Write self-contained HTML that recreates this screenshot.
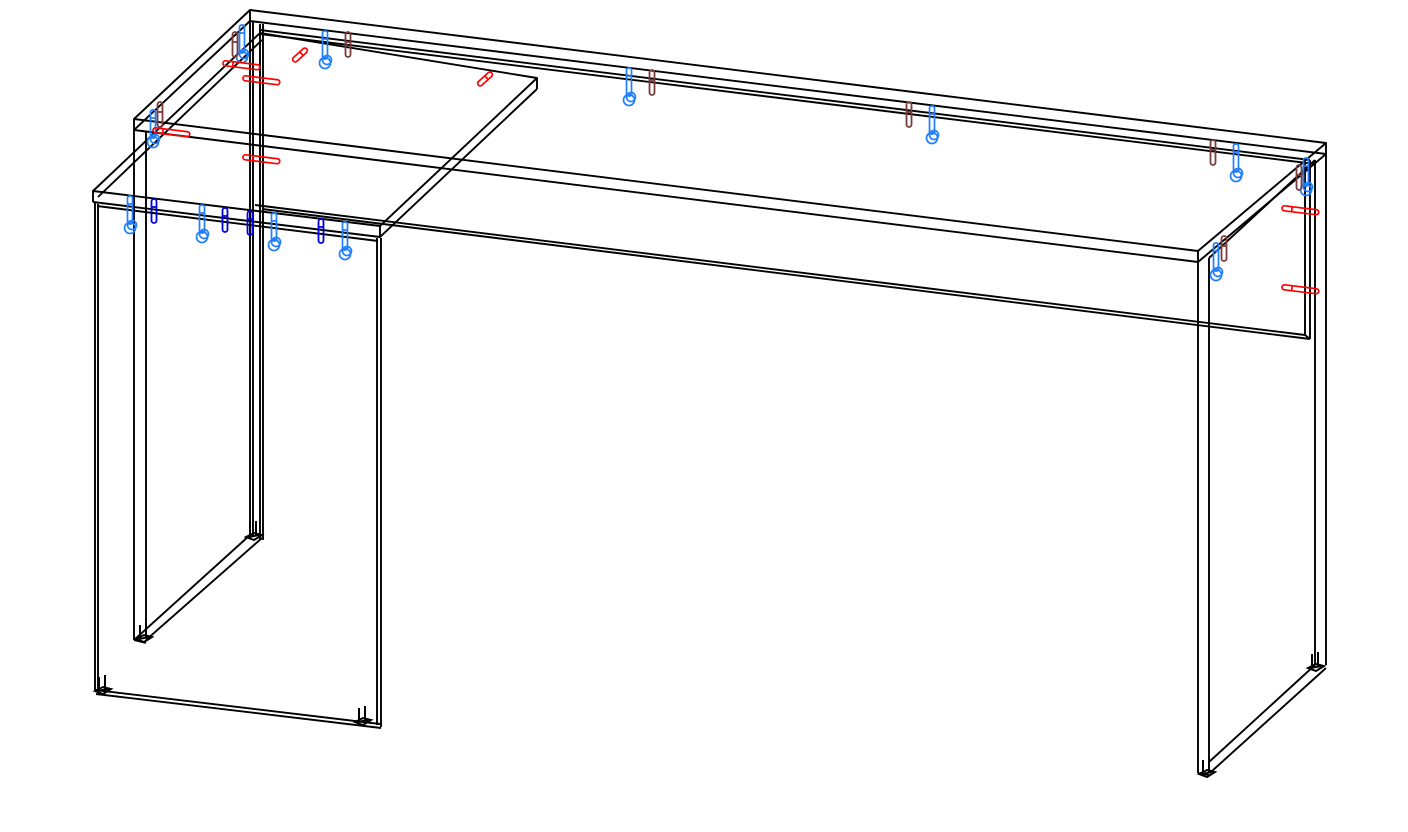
<!DOCTYPE html>
<html><head><meta charset="utf-8"><style>
html,body{margin:0;padding:0;background:#fff;width:1408px;height:832px;overflow:hidden}
svg{display:block}
</style></head><body>
<svg width="1408" height="832" viewBox="0 0 1408 832" xmlns="http://www.w3.org/2000/svg">
<defs>
<g id="cam" fill="none" stroke="#1f7fff" stroke-width="1.7">
  <rect x="-2.5" y="0" width="5" height="28" rx="2"/>
  <line x1="-2.5" y1="8" x2="2.5" y2="8"/>
  <circle cx="0" cy="32" r="5.5"/>
  <circle cx="2" cy="29" r="4.5"/>
</g>
<g id="dow" fill="none" stroke="#0000e0" stroke-width="1.8">
  <rect x="-2.5" y="0" width="5" height="24" rx="2.5"/>
  <line x1="-2.5" y1="8" x2="2.5" y2="8"/>
</g>
<g id="brn" fill="none" stroke="#7a3b3b" stroke-width="1.8">
  <rect x="-2.5" y="0" width="5" height="25" rx="2.5"/>
  <line x1="-2.5" y1="10" x2="2.5" y2="10"/>
</g>
<g id="rh" fill="none" stroke="#ff0000" stroke-width="1.7">
  <rect x="0" y="-2.5" width="37" height="5" rx="2.5"/>
  <line x1="10" y1="-2.5" x2="10" y2="2.5"/>
</g>
<g id="rd" fill="none" stroke="#ff0000" stroke-width="1.7">
  <rect x="-9" y="-2.5" width="18" height="5" rx="2.5"/>
  <line x1="2" y1="-2.5" x2="2" y2="2.5"/>
</g>
<g id="foot" fill="none" stroke="#000" stroke-width="2">
  <path d="M0,0 L8,-4 L16,-2 L8,3 Z"/>
  <line x1="4" y1="-1" x2="4" y2="-14"/>
  <line x1="10" y1="-2" x2="10" y2="-16"/>
  <line x1="3" y1="0" x2="13" y2="-2"/>
</g>
</defs>
<g fill="none" stroke="#000" stroke-width="1.9" stroke-linejoin="round">
<polygon points="250,10 1326,143 1198,251 134,119"/>
<polyline points="250,21 1326,154"/>
<polyline points="134,130 1198,262 1326,154 1326,143"/>
<line x1="134" y1="119" x2="134" y2="130"/>
<line x1="1198" y1="251" x2="1198" y2="262"/>
<line x1="250" y1="10" x2="250" y2="21"/>
<line x1="134" y1="130" x2="250" y2="21"/>
<line x1="260" y1="30" x2="1310" y2="160"/>
<line x1="260" y1="34" x2="1315" y2="164"/>
<line x1="255" y1="205" x2="1305" y2="335"/>
<line x1="262" y1="209" x2="1310" y2="339"/>
<line x1="1305" y1="160" x2="1305" y2="335"/>
<line x1="1310" y1="160" x2="1310" y2="339"/>
<line x1="1305" y1="335" x2="1310" y2="339"/>
<line x1="134" y1="130" x2="134" y2="640"/>
<line x1="146" y1="131" x2="146" y2="636"/>
<line x1="250" y1="21" x2="250" y2="537"/>
<line x1="253" y1="21" x2="253" y2="537"/>
<line x1="260" y1="24" x2="260" y2="540"/>
<line x1="263" y1="24" x2="263" y2="540"/>
<line x1="134" y1="640" x2="250" y2="535"/>
<line x1="146" y1="640" x2="262" y2="538"/>
<line x1="134" y1="640" x2="146" y2="643"/>
<polygon points="93,191 380,226 537,78 260,33"/>
<line x1="93" y1="191" x2="93" y2="202"/>
<line x1="380" y1="226" x2="380" y2="237"/>
<line x1="537" y1="78" x2="537" y2="89"/>
<polyline points="93,202 380,237 537,89"/>
<line x1="98" y1="197" x2="262" y2="40"/>
<line x1="97" y1="206" x2="378" y2="241"/>
<line x1="95" y1="202" x2="95" y2="690"/>
<line x1="98" y1="204" x2="98" y2="692"/>
<line x1="377" y1="238" x2="377" y2="725"/>
<line x1="381" y1="238" x2="381" y2="727"/>
<line x1="95" y1="690" x2="380" y2="724"/>
<line x1="96" y1="694" x2="381" y2="728"/>
<line x1="1198" y1="262" x2="1198" y2="773"/>
<line x1="1209" y1="258" x2="1209" y2="773"/>
<line x1="1315" y1="160" x2="1315" y2="665"/>
<line x1="1326" y1="154" x2="1326" y2="665"/>
<line x1="1209" y1="762" x2="1315" y2="665"/>
<line x1="1212" y1="771" x2="1326" y2="668"/>
<line x1="1198" y1="773" x2="1209" y2="775"/>
<line x1="1209" y1="258" x2="1315" y2="160"/>
</g>
<use href="#foot" x="136" y="639"/>
<use href="#foot" x="246" y="537"/>
<use href="#foot" x="95" y="691"/>
<use href="#foot" x="355" y="722"/>
<use href="#foot" x="1199" y="774"/>
<use href="#foot" x="1308" y="668"/>
<use href="#cam" x="325" y="31"/>
<use href="#cam" x="629" y="68"/>
<use href="#cam" x="932" y="106"/>
<use href="#cam" x="1236" y="144"/>
<use href="#cam" x="130" y="196"/>
<use href="#cam" x="202" y="205"/>
<use href="#cam" x="274" y="213"/>
<use href="#cam" x="345" y="222"/>
<use href="#cam" x="242" y="25"/>
<use href="#cam" x="153" y="110"/>
<use href="#cam" x="1306" y="158"/>
<use href="#cam" x="1216" y="243"/>
<use href="#brn" x="348" y="32"/>
<use href="#brn" x="652" y="70"/>
<use href="#brn" x="909" y="102"/>
<use href="#brn" x="1213" y="140"/>
<use href="#brn" x="235" y="32"/>
<use href="#brn" x="160" y="102"/>
<use href="#brn" x="1299" y="165"/>
<use href="#brn" x="1224" y="236"/>
<use href="#dow" x="154" y="199"/>
<use href="#dow" x="225" y="208"/>
<use href="#dow" x="250" y="211"/>
<use href="#dow" x="321" y="219"/>
<use href="#rh" transform="translate(243,78) rotate(7)"/>
<use href="#rh" transform="translate(243,157) rotate(7)"/>
<use href="#rh" transform="translate(1282,208) rotate(7)"/>
<use href="#rh" transform="translate(1282,287) rotate(7)"/>
<use href="#rh" transform="translate(223,63) rotate(7)"/>
<use href="#rh" transform="translate(153,130) rotate(7)"/>
<use href="#rd" transform="translate(300,55) rotate(-42)"/>
<use href="#rd" transform="translate(485,79) rotate(-42)"/>
</svg>
</body></html>
